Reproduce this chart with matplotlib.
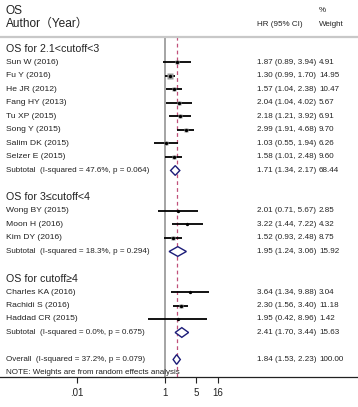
"""Forest plot of OS hazard ratios by cutoff subgroup (random effects)."""

import matplotlib
matplotlib.use("Agg")
import matplotlib.pyplot as plt
from matplotlib.patches import Polygon
import matplotlib.transforms as mtransforms
import numpy as np

FONT = ["Liberation Sans", "Noto Sans CJK SC", "DejaVu Sans"]
plt.rcParams["font.family"] = FONT

# ---- data ----
group_titles = ["OS for 2.1<cutoff<3", "OS for 3\u2264cutoff<4", "OS for cutoff\u22654"]

g1_names = ["Sun W (2016)", "Fu Y (2016)", "He JR (2012)", "Fang HY (2013)",
            "Tu XP (2015)", "Song Y (2015)", "Salim DK (2015)", "Selzer E (2015)"]
g1_hr = [1.87, 1.30, 1.57, 2.04, 2.18, 2.99, 1.03, 1.58]
g1_lo = [0.89, 0.99, 1.04, 1.04, 1.21, 1.91, 0.55, 1.01]
g1_hi = [3.94, 1.70, 2.38, 4.02, 3.92, 4.68, 1.94, 2.48]
g1_w = [4.91, 14.95, 10.47, 5.67, 6.91, 9.70, 6.26, 9.60]

g2_names = ["Wong BY (2015)", "Moon H (2016)", "Kim DY (2016)"]
g2_hr = [2.01, 3.22, 1.52]
g2_lo = [0.71, 1.44, 0.93]
g2_hi = [5.67, 7.22, 2.48]
g2_w = [2.85, 4.32, 8.75]

g3_names = ["Charles KA (2016)", "Rachidi S (2016)", "Haddad CR (2015)"]
g3_hr = [3.64, 2.30, 1.95]
g3_lo = [1.34, 1.56, 0.42]
g3_hi = [9.88, 3.40, 8.96]
g3_w = [3.04, 11.18, 1.42]

sub_hr = [1.71, 1.95, 2.41]
sub_lo = [1.34, 1.24, 1.70]
sub_hi = [2.17, 3.06, 3.44]
sub_w = [68.44, 15.92, 15.63]
sub_i2 = ["47.6%", "18.3%", "0.0%"]
sub_p = ["0.064", "0.294", "0.675"]

overall_hr, overall_lo, overall_hi, overall_w = 1.84, 1.53, 2.23, 100.00
overall_i2, overall_p = "37.2%", "0.079"

xticks = [0.01, 1, 5, 16]
xtick_labels = [".01", "1", "5", "16"]

groups = [
    (g1_names, g1_hr, g1_lo, g1_hi, g1_w),
    (g2_names, g2_hr, g2_lo, g2_hi, g2_w),
    (g3_names, g3_hr, g3_lo, g3_hi, g3_w),
]

W, H = 358, 407
fig = plt.figure(figsize=(W / 100, H / 100), dpi=100)

# axes: top edge = header rule (y=37px), bottom edge = x axis (y=377px)
top_px, bot_px = 37, 377
ax = fig.add_axes([0, (H - bot_px) / H, 1, (bot_px - top_px) / H])
row0_px, row_px = 49, 13.5
ax.set_ylim((bot_px - row0_px) / row_px, (top_px - row0_px) / row_px)
ax.set_xscale("log")
one_px, dec_px = 165, 44
ax.set_xlim(10 ** (-one_px / dec_px), 10 ** ((W - one_px) / dec_px))

for s in ["left", "right"]:
    ax.spines[s].set_visible(False)
ax.spines["top"].set_color("#c8c8c8")
ax.spines["top"].set_linewidth(1.6)
ax.spines["bottom"].set_color("#222222")
ax.spines["bottom"].set_linewidth(0.9)
ax.set_yticks([])
ax.set_xticks(xticks)
ax.set_xticklabels(xtick_labels, fontsize=7)
ax.minorticks_off()
ax.tick_params(axis="x", length=4, width=0.8, color="#222222", pad=4, labelcolor="#222222")

TXT = "#222222"
NAVY = "#1c1c78"
name_x = 6 / W
hr_x = 257 / W
w_x = 319 / W
tr = mtransforms.blended_transform_factory(ax.transAxes, ax.transData)
small = 5.8
name_size = 6.1
big = 7.7

# reference lines
ax.axvline(1, color="#8c8c8c", lw=1.1, zorder=1)
ax.axvline(overall_hr, color="#c0507a", lw=0.9, ls=(0, (3, 2.5)), zorder=1)


def diamond(y, est, lo, hi):
    h = 0.36
    pts = [(lo, y), (est, y - h), (hi, y), (est, y + h)]
    ax.add_patch(Polygon(pts, closed=True, facecolor="white", edgecolor=NAVY,
                         lw=1.0, zorder=3))


row = 0
for gi, (names, hr, lo, hi, w) in enumerate(groups):
    ax.text(name_x, row, group_titles[gi], transform=tr, fontsize=big,
            va="center", ha="left", color=TXT)
    row += 1
    for n, e, l, u, wt in zip(names, hr, lo, hi, w):
        ax.plot([l, u], [row, row], color="black", lw=1.3, solid_capstyle="butt", zorder=2)
        side = 1.4 * np.sqrt(wt) / 1.389
        ax.plot(e, row, marker="s", ms=side, color="#9a9a9a", mec="none", zorder=2)
        ax.plot(e, row, marker="o", ms=2.4, color="black", mec="none", zorder=3)
        ax.text(name_x, row, n, transform=tr, fontsize=name_size, va="center", color=TXT)
        ax.text(hr_x, row, f"{e:.2f} ({l:.2f}, {u:.2f})", transform=tr,
                fontsize=small, va="center", color=TXT)
        ax.text(w_x, row, f"{wt:.2f}", transform=tr, fontsize=small, va="center", color=TXT)
        row += 1
    diamond(row, sub_hr[gi], sub_lo[gi], sub_hi[gi])
    ax.text(name_x, row, f"Subtotal  (I-squared = {sub_i2[gi]}, p = {sub_p[gi]})",
            transform=tr, fontsize=small, va="center", color=TXT)
    ax.text(hr_x, row, f"{sub_hr[gi]:.2f} ({sub_lo[gi]:.2f}, {sub_hi[gi]:.2f})",
            transform=tr, fontsize=small, va="center", color=TXT)
    ax.text(w_x, row, f"{sub_w[gi]:.2f}", transform=tr, fontsize=small, va="center", color=TXT)
    row += 2

diamond(row, overall_hr, overall_lo, overall_hi)
ax.text(name_x, row, f"Overall  (I-squared = {overall_i2}, p = {overall_p})",
        transform=tr, fontsize=small, va="center", color=TXT)
ax.text(hr_x, row, f"{overall_hr:.2f} ({overall_lo:.2f}, {overall_hi:.2f})",
        transform=tr, fontsize=small, va="center", color=TXT)
ax.text(w_x, row, f"{overall_w:.2f}", transform=tr, fontsize=small, va="center", color=TXT)
row += 1
ax.text(name_x, row, "NOTE: Weights are from random effects analysis",
        transform=tr, fontsize=small, va="center", color=TXT)

# column headers above the rule
span = bot_px - top_px
ax.text(name_x, 1 + 26 / span, "OS", transform=ax.transAxes,
        fontsize=8.6, va="center", color=TXT)
ax.text(name_x, 1 + 13 / span, "Author\uff08Year\uff09", transform=ax.transAxes,
        fontsize=8.6, va="center", color=TXT)
ax.text(hr_x, 1 + 12 / span, "HR (95% CI)", transform=ax.transAxes,
        fontsize=small, va="center", color=TXT)
ax.text(w_x, 1 + 26 / span, "%", transform=ax.transAxes,
        fontsize=small, va="center", color=TXT)
ax.text(w_x, 1 + 12 / span, "Weight", transform=ax.transAxes,
        fontsize=small, va="center", color=TXT)

fig.savefig("out.png", dpi=100)
